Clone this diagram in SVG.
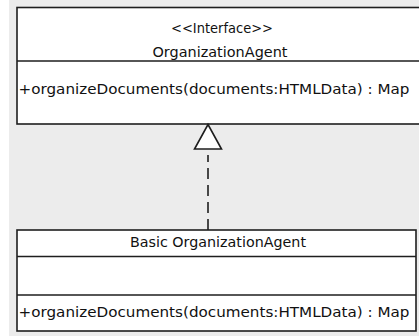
<svg xmlns="http://www.w3.org/2000/svg" width="419" height="336" viewBox="0 0 419 336">
  <style>
    .box { fill: #ffffff; stroke: #1e1e1e; stroke-width: 1.6; }
    .sep { stroke: #1e1e1e; stroke-width: 1.6; }
    .txt { font-family: "DejaVu Sans", "Liberation Sans", sans-serif; font-size: 13.5px; fill: #111111; }
    .mid { text-anchor: middle; }
    .dep { stroke: #1e1e1e; stroke-width: 1.6; stroke-dasharray: 11 6; fill: none; }
    .head { fill: #ffffff; stroke: #1e1e1e; stroke-width: 1.6; stroke-linejoin: miter; }
  </style>

  <!-- canvas -->
  <rect x="0" y="0" width="419" height="336" fill="#ffffff"/>
  <rect x="9" y="0" width="410" height="336" fill="#ececec"/>

  <!-- interface -->
  <g id="OrganizationAgent">
    <rect class="box" x="17" y="7.5" width="408" height="116.5"/>
    <line class="sep" x1="17" y1="61" x2="425" y2="61"/>
    <text class="txt mid" x="222" y="33" textLength="102" lengthAdjust="spacingAndGlyphs">&lt;&lt;Interface&gt;&gt;</text>
    <text class="txt mid" x="220" y="57" textLength="135" lengthAdjust="spacingAndGlyphs">OrganizationAgent</text>
    <text class="txt" x="18.5" y="94" textLength="391" lengthAdjust="spacingAndGlyphs">+organizeDocuments(documents:HTMLData) : Map</text>
  </g>

  <!-- implementing class -->
  <g id="BasicOrganizationAgent">
    <rect class="box" x="17" y="230" width="399" height="101"/>
    <line class="sep" x1="17" y1="256.5" x2="416" y2="256.5"/>
    <line class="sep" x1="17" y1="295" x2="416" y2="295"/>
    <text class="txt mid" x="218" y="247" textLength="176" lengthAdjust="spacingAndGlyphs">Basic OrganizationAgent</text>
    <text class="txt" x="18.5" y="317" textLength="391" lengthAdjust="spacingAndGlyphs">+organizeDocuments(documents:HTMLData) : Map</text>
  </g>

  <!-- realization -->
  <g id="connectors">
    <line class="dep" x1="208" y1="230" x2="208" y2="155"/>
    <polygon class="head" points="208,124.5 221.5,149 194.5,149"/>
  </g>
</svg>
